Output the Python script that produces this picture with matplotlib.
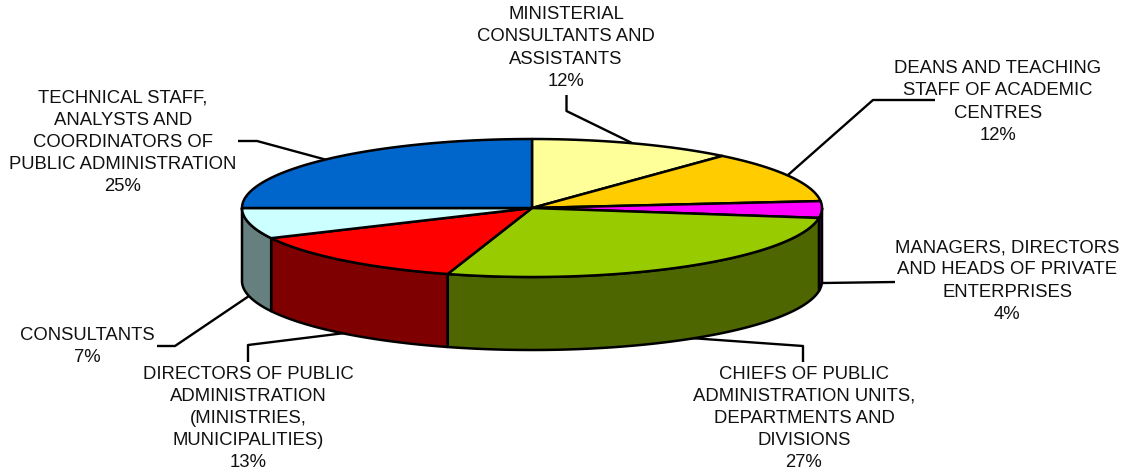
import numpy as np
import matplotlib
matplotlib.use("Agg")
import matplotlib.pyplot as plt

plt.rcParams['font.family'] = ['Liberation Sans', 'DejaVu Sans']

# clockwise from 12 o'clock
categories = [
    "MINISTERIAL\nCONSULTANTS AND\nASSISTANTS\n12%",
    "DEANS AND TEACHING\nSTAFF OF ACADEMIC\nCENTRES\n12%",
    "MANAGERS, DIRECTORS\nAND HEADS OF PRIVATE\nENTERPRISES\n4%",
    "CHIEFS OF PUBLIC\nADMINISTRATION UNITS,\nDEPARTMENTS AND\nDIVISIONS\n27%",
    "DIRECTORS OF PUBLIC\nADMINISTRATION\n(MINISTRIES,\nMUNICIPALITIES)\n13%",
    "CONSULTANTS\n7%",
    "TECHNICAL STAFF,\nANALYSTS AND\nCOORDINATORS OF\nPUBLIC ADMINISTRATION\n25%",
]
shares = [11.4, 12.0, 3.9, 27.4, 13.1, 7.2, 25.0]
top_colors = ['#FFFF99', '#FFCC00', '#FF00FF', '#99CC00', '#FF0000', '#CCFFFF', '#0066CC']
side_colors = ['#7F7F4C', '#7F6600', '#7F007F', '#4D6600', '#7F0000', '#667F7F', '#003366']

# label centres and leader lines, in pixels
label_xy = [(566, 48), (998, 102), (1007, 281), (804, 418.5), (248, 418.5), (87, 346.5), (123, 142.5)]
leaders = [
    [(566.5, 95), (566.5, 111), (632, 143)],
    [(935, 100), (873, 100), (788, 175)],
    [(895, 282), (823, 283)],
    [(690, 338), (803, 346), (803, 362)],
    [(248, 362), (248, 345), (345, 333)],
    [(157, 346), (175, 346), (249, 296)],
    [(238, 141), (257, 141), (327, 160)],
]

cx, cy, rx, ry, depth = 532, 208, 290, 69, 73

fig = plt.figure(figsize=(11.24, 4.73), dpi=100)
ax = fig.add_axes([0, 0, 1, 1])
ax.set_xlim(0, 1124)
ax.set_ylim(473, 0)
ax.axis('off')


def rim(a0, a1, n=120):
    t = np.radians(np.linspace(a0, a1, n))
    return cx + rx * np.sin(t), cy - ry * np.cos(t)


edges = np.concatenate([[0], np.cumsum(shares)]) * 3.6 / sum(shares) * 100

for pts in leaders:
    xs, ys = zip(*pts)
    ax.plot(xs, ys, color='black', lw=1.7, zorder=1, solid_capstyle='butt')

# outer wall, only the part facing the viewer
for i in range(len(shares)):
    a0, a1 = max(edges[i], 90), min(edges[i + 1], 270)
    if a1 <= a0:
        continue
    x, y = rim(a0, a1)
    ax.fill(np.r_[x, x[::-1]], np.r_[y, y[::-1] + depth], facecolor=side_colors[i],
            edgecolor='black', lw=1.8, zorder=2, joinstyle='round')

# top face
for i in range(len(shares)):
    x, y = rim(edges[i], edges[i + 1])
    ax.fill(np.r_[cx, x], np.r_[cy, y], facecolor=top_colors[i],
            edgecolor='black', lw=1.8, zorder=3, joinstyle='round')

for txt, (x, y) in zip(categories, label_xy):
    ax.text(x, y, txt, ha='center', va='center', fontsize=13.3, color='#111111',
            linespacing=1.39, zorder=4)

fig.savefig('out.png', dpi=100)
